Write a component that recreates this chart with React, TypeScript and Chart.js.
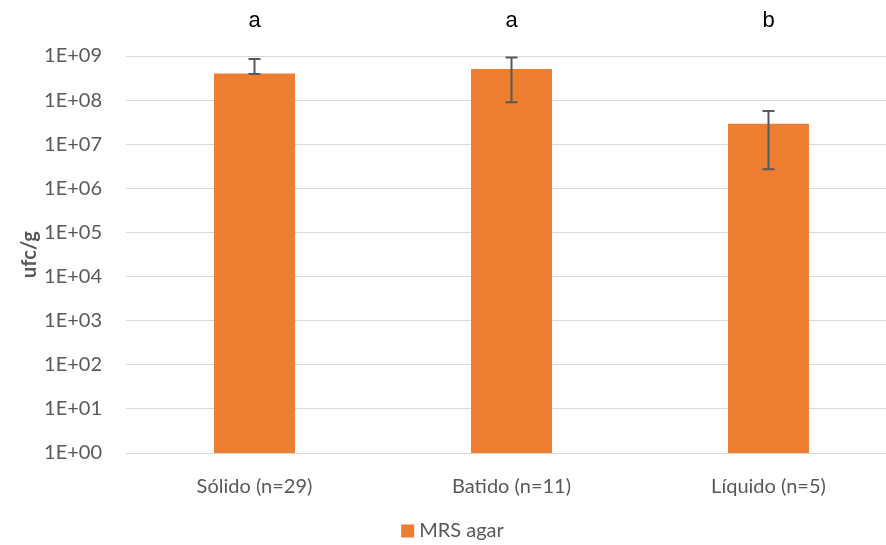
import React, { useEffect, useRef } from "react";
import { Chart, registerables } from "chart.js";

Chart.register(...registerables);

// Recuentos en MRS agar por tipo de producto (ufc/g)
const categories = ["Sólido (n=29)", "Batido (n=11)", "Líquido (n=5)"];
const meanCounts = [4.0e8, 5.1e8, 2.9e7];
const errorLow = [3.9e8, 9.0e7, 2.7e6];
const errorHigh = [8.6e8, 9.2e8, 5.7e7];
const groupLetters = ["a", "a", "b"];
const tickExponents = [0, 1, 2, 3, 4, 5, 6, 7, 8, 9];
const seriesName = "MRS agar";

const ORANGE = "#ED7D31";
const GREY_TEXT = "#595959";
const FONT = "Lato, 'Open Sans', sans-serif";

const errorBarPlugin = {
  id: "errorBars",
  afterDatasetsDraw(chart: any) {
    const { ctx } = chart;
    const y = chart.scales.y;
    const meta = chart.getDatasetMeta(0);
    ctx.save();
    ctx.strokeStyle = "#595959";
    ctx.lineWidth = 2;
    meta.data.forEach((bar: any, i: number) => {
      const x = bar.x;
      const yHi = y.getPixelForValue(errorHigh[i]);
      const yLo = y.getPixelForValue(errorLow[i]);
      const cap = 6;
      ctx.beginPath();
      ctx.moveTo(x, yHi);
      ctx.lineTo(x, yLo);
      ctx.moveTo(x - cap, yHi);
      ctx.lineTo(x + cap, yHi);
      ctx.moveTo(x - cap, yLo);
      ctx.lineTo(x + cap, yLo);
      ctx.stroke();
    });
    ctx.restore();
  },
};

const letterPlugin = {
  id: "groupLetters",
  afterDraw(chart: any) {
    const { ctx } = chart;
    const meta = chart.getDatasetMeta(0);
    ctx.save();
    ctx.fillStyle = "#000000";
    ctx.font = "22px 'Liberation Sans', Arial, sans-serif";
    ctx.textAlign = "center";
    ctx.textBaseline = "alphabetic";
    meta.data.forEach((bar: any, i: number) => {
      ctx.fillText(groupLetters[i], bar.x, 27);
    });
    ctx.restore();
  },
};

// Leyenda inferior: cuadro de color + nombre de la serie
const bottomLegendPlugin = {
  id: "bottomLegend",
  afterDraw(chart: any) {
    const { ctx } = chart;
    const ds = chart.data.datasets[0];
    ctx.save();
    ctx.font = `20px ${FONT}`;
    const textW = ctx.measureText(ds.label).width;
    const box = 13;
    const gap = 5;
    const total = box + gap + textW;
    const cx = chart.width / 2 + 4;
    const cy = 531;
    const x0 = cx - total / 2;
    ctx.fillStyle = ds.backgroundColor;
    ctx.fillRect(x0, cy - box / 2, box, box);
    ctx.fillStyle = GREY_TEXT;
    ctx.textAlign = "left";
    ctx.textBaseline = "middle";
    ctx.fillText(ds.label, x0 + box + gap, cy);
    ctx.restore();
  },
};

export default function App() {
  const canvasRef = useRef<HTMLCanvasElement | null>(null);

  useEffect(() => {
    if (!canvasRef.current) return;
    const chart = new Chart(canvasRef.current, {
      type: "bar",
      data: {
        labels: categories,
        datasets: [
          {
            label: seriesName,
            data: meanCounts,
            backgroundColor: ORANGE,
            borderWidth: 0,
            categoryPercentage: 1,
            barPercentage: 0.315,
          },
        ],
      },
      options: {
        animation: false,
        responsive: true,
        maintainAspectRatio: false,
        layout: { padding: { top: 56, left: 0, right: 0, bottom: 40 } },
        plugins: {
          tooltip: { enabled: false },
          legend: { display: false },
        },
        scales: {
          x: {
            grid: { display: false, drawTicks: false },
            border: { display: true, color: "#d9d9d9", width: 1 },
            ticks: {
              color: GREY_TEXT,
              font: { family: FONT, size: 20 },
              padding: 22,
            },
            afterFit(scale: any) {
              scale.height = 52;
            },
          },
          y: {
            type: "logarithmic",
            min: 1,
            max: 1e9,
            afterBuildTicks(scale: any) {
              scale.ticks = tickExponents.map((e) => ({ value: Math.pow(10, e) }));
            },
            afterFit(scale: any) {
              scale.width = 126;
            },
            grid: { color: "#d9d9d9", lineWidth: 1, drawTicks: false },
            border: { display: false },
            ticks: {
              color: GREY_TEXT,
              font: { family: FONT, size: 20 },
              padding: 24,
              callback: (value: any) => {
                const e = Math.round(Math.log10(Number(value)));
                return "1E+" + String(e).padStart(2, "0");
              },
            },
            title: {
              display: true,
              text: "ufc/g",
              color: GREY_TEXT,
              font: { family: FONT, size: 20, weight: "bold" },
              padding: { top: 18, bottom: 0 },
            },
          },
        },
      },
      plugins: [errorBarPlugin, letterPlugin, bottomLegendPlugin],
    });
    return () => chart.destroy();
  }, []);

  return (
    <div
      style={{
        position: "fixed",
        left: 0,
        top: 0,
        width: 886,
        height: 545,
        overflow: "hidden",
        background: "#ffffff",
      }}
    >
      <div style={{ position: "relative", width: 897, height: 545 }}>
        <canvas ref={canvasRef} />
      </div>
    </div>
  );
}
